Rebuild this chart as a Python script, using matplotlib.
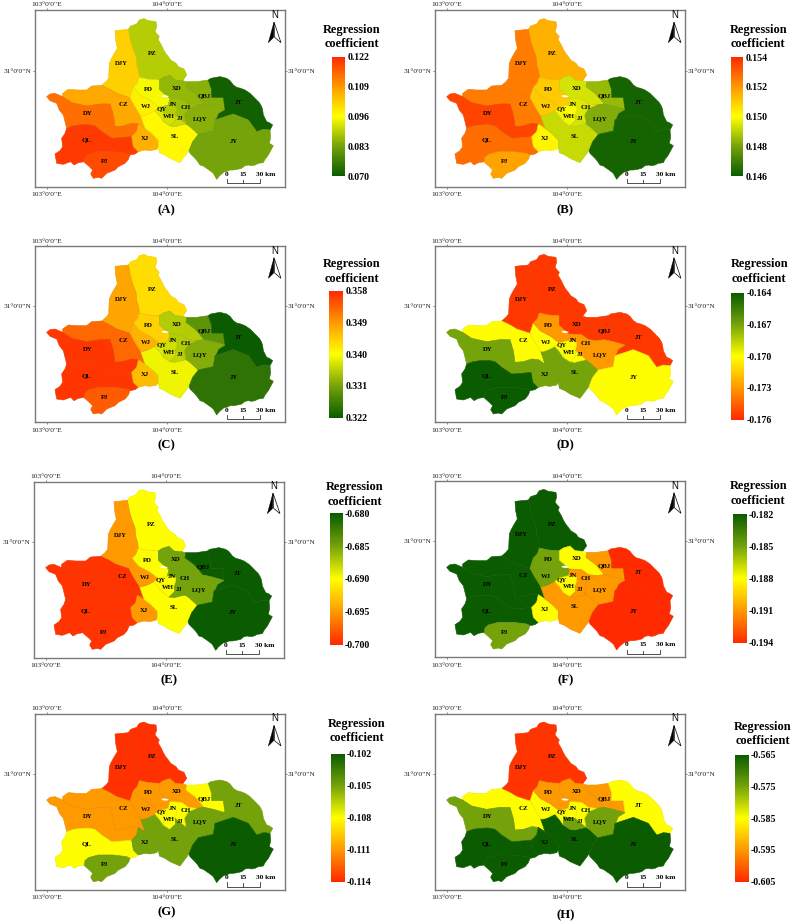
import matplotlib
matplotlib.use("Agg")
import matplotlib.pyplot as plt
from matplotlib.colors import LinearSegmentedColormap, Normalize
from matplotlib.cm import ScalarMappable
from matplotlib.patches import Polygon

plt.rcParams['font.family'] = ['Liberation Serif', 'DejaVu Serif']

W, H = 796, 924
Z = 3.0  # layout units per pixel

REGIONS = ["PZ","DJY","CZ","DY","QL","PJ","XJ","SL","WJ","PD","XD","QBJ","JT","LQY","CH","JN","QY","WH","JJ","JY"]

values_A = [.089,.102,.107,.114,.120,.118,.106,.097,.098,.095,.086,.085,.071,.085,.087,.089,.093,.092,.091,.083]
values_B = [.1515,.1525,.1525,.1535,.1528,.1518,.1502,.1492,.1510,.1510,.1494,.1485,.1462,.1482,.1495,.1500,.1498,.1498,.1494,.1462]
values_C = [.343,.348,.353,.357,.357,.354,.346,.339,.347,.344,.335,.329,.322,.332,.335,.337,.338,.337,.336,.325]
values_D = [-.1756,-.1756,-.170,-.167,-.164,-.164,-.167,-.167,-.170,-.173,-.1756,-.1756,-.1756,-.173,-.173,-.170,-.170,-.170,-.170,-.170]
values_E = [-.690,-.695,-.6995,-.6995,-.6995,-.6995,-.695,-.690,-.695,-.690,-.685,-.680,-.680,-.685,-.685,-.690,-.690,-.690,-.685,-.680]
values_F = [-.182,-.182,-.182,-.182,-.182,-.185,-.188,-.191,-.185,-.185,-.188,-.191,-.194,-.191,-.191,-.188,-.188,-.188,-.191,-.194]
values_G = [-.1138,-.1138,-.111,-.111,-.108,-.105,-.105,-.105,-.111,-.111,-.111,-.108,-.105,-.105,-.108,-.108,-.108,-.108,-.105,-.102]
values_H = [-.604,-.604,-.585,-.575,-.565,-.565,-.565,-.565,-.585,-.595,-.595,-.595,-.585,-.575,-.585,-.585,-.585,-.575,-.575,-.565]

ticks_A = [.122,.109,.096,.083,.070]
ticks_B = [.154,.152,.150,.148,.146]
ticks_C = [.358,.349,.340,.331,.322]
ticks_D = [-.164,-.167,-.170,-.173,-.176]
ticks_E = [-.680,-.685,-.690,-.695,-.700]
ticks_F = [-.182,-.185,-.188,-.191,-.194]
ticks_G = [-.102,-.105,-.108,-.111,-.114]
ticks_H = [-.565,-.575,-.585,-.595,-.605]

# Region outlines in layout units
SHAPES = {
"PZ":[(385,88),(392,78),(410,72),(418,60),(432,56),(445,62),(468,65),(470,80),(465,95),(478,110),(474,118),(484,135),(490,148),(497,160),(505,170),(512,180),(528,190),(535,200),(552,207),(560,225),(548,242),(525,240),(510,226),(490,232),(478,240),(445,238),(418,232),(416,215),(410,195),(408,170),(400,150),(392,125)],
"DJY":[(385,88),(345,92),(347,120),(352,145),(340,165),(333,178),(328,190),(327,212),(326,235),(318,245),(305,256),(330,268),(350,280),(390,293),(400,262),(412,250),(418,232),(416,215),(410,195),(408,170),(400,150),(392,125)],
"CZ":[(188,290),(188,280),(205,268),(230,270),(260,270),(275,258),(305,256),(330,268),(350,280),(390,293),(405,320),(422,347),(435,385),(415,372),(395,370),(370,378),(345,380),(340,345),(330,312),(300,312),(260,318),(215,308)],
"DY":[(140,290),(150,282),(165,280),(188,290),(215,308),(260,318),(300,312),(330,312),(340,345),(345,380),(370,378),(395,370),(415,372),(410,395),(395,410),(365,413),(335,415),(305,395),(285,378),(265,374),(240,375),(220,378),(200,385),(195,365),(190,345),(178,330),(170,310),(150,302)],
"QL":[(200,385),(220,378),(240,375),(265,374),(285,378),(305,395),(335,415),(365,413),(395,410),(400,440),(415,455),(405,462),(390,465),(380,460),(340,455),(295,455),(265,463),(255,472),(253,485),(235,488),(222,495),(212,485),(190,493),(170,490),(165,462),(180,452),(188,440),(185,415),(195,400)],
"PJ":[(255,472),(265,463),(295,455),(340,455),(380,460),(390,465),(385,478),(375,490),(355,500),(345,510),(320,520),(305,535),(295,532),(280,535),(272,522),(278,510),(268,500),(253,487)],
"XJ":[(435,385),(455,400),(475,420),(475,440),(470,448),(450,452),(435,450),(415,455),(400,440),(395,410),(410,395),(415,372)],
"SL":[(475,440),(478,458),(495,465),(510,475),(540,488),(552,472),(567,452),(578,425),(595,403),(570,380),(558,372),(540,376),(525,380),(510,378),(490,365),(480,350),(465,332),(445,342),(430,347),(422,347),(435,385),(455,400),(475,420)],
"WJ":[(400,262),(390,293),(405,320),(422,347),(430,347),(445,342),(465,332),(478,322),(452,302),(420,285)],
"PD":[(400,262),(420,285),(452,302),(478,322),(505,315),(510,295),(495,283),(478,268),(478,240),(445,238),(418,232),(412,250)],
"XD":[(478,240),(490,232),(510,226),(525,240),(548,242),(560,245),(558,260),(585,280),(603,300),(612,312),(590,315),(565,312),(545,297),(510,295),(495,283),(478,268)],
"QBJ":[(560,245),(590,245),(625,240),(635,270),(635,292),(670,292),(675,328),(640,318),(612,312),(603,300),(585,280),(558,260)],
"JT":[(625,240),(632,235),(660,230),(680,235),(690,242),(700,255),(710,262),(722,265),(735,270),(750,280),(760,290),(770,300),(778,308),(785,320),(788,330),(790,345),(795,355),(800,365),(808,368),(818,375),(810,390),(790,388),(770,395),(745,360),(700,342),(645,360),(650,352),(655,340),(675,328),(670,292),(635,292),(635,270)],
"LQY":[(612,312),(640,318),(675,328),(655,340),(650,352),(645,360),(640,393),(595,403),(570,380),(558,372),(553,345),(565,325),(590,315)],
"CH":[(510,295),(545,297),(565,312),(590,315),(565,325),(553,345),(558,372),(545,362),(525,345),(530,330),(530,320),(505,315)],
"JN":[(505,315),(530,320),(530,330),(525,345),(490,340),(478,322)],
"QY":[(478,322),(490,340),(490,365),(480,350),(465,332)],
"WH":[(490,340),(525,345),(527,362),(510,378),(490,365)],
"JJ":[(525,345),(545,362),(558,372),(540,376),(525,380),(510,378),(527,362)],
"JY":[(595,403),(640,393),(645,360),(700,342),(745,360),(770,395),(790,388),(810,390),(812,412),(808,430),(820,437),(805,465),(795,478),(790,488),(775,490),(765,495),(755,497),(745,495),(735,497),(725,505),(712,508),(700,510),(690,510),(680,515),(672,516),(665,522),(658,528),(650,538),(640,520),(630,512),(620,505),(610,498),(600,495),(592,483),(585,475),(577,467),(570,460),(567,452),(578,425)],
}
LABEL_XY = {"PZ":(457,161),"DJY":(365,192),"PD":(446,268),"XD":(530,265),"QBJ":(612,286),"JT":(716,307),"CZ":(369,315),
"WJ":(438,319),"QY":(484,326),"JN":(519,315),"CH":(557,323),"DY":(264,341),"WH":(508,349),"JJ":(541,356),"LQY":(601,356),
"QL":(260,420),"XJ":(435,417),"SL":(525,409),"JY":(700,424),"PJ":(314,485)}
HOLE = [(484,287),(495,285),(507,289),(500,292),(488,291)]

# name, values, ticks, origin, frame (l,r,t,b), map shift, bar (l,r,t,b), title (cx,y1,y2), caption (x,y), high end red
PANELS = [
("A",values_A,ticks_A,(0,0),(104,855,30,560),(0,0),(995,1035,170,528),(1055,90,133),(500,630),True),
("B",values_B,ticks_B,(400,0),(104,855,30,560),(0,0),(992,1030,172,528),(1075,90,133),(495,630),True),
("C",values_C,ticks_C,(0,225),(104,855,64,592),(0,32),(988,1030,198,578),(1055,118,162),(500,660),True),
("D",values_D,ticks_D,(400,225),(104,855,64,592),(0,32),(992,1032,203,584),(1078,118,162),(495,660),False),
("E",values_E,ticks_E,(0,460),(101,853,66,594),(-3,33),(990,1028,160,554),(1065,82,125),(508,662),False),
("F",values_F,ticks_F,(400,460),(104,855,64,592),(0,32),(1000,1040,163,548),(1075,78,122),(497,660),False),
("G",values_G,ticks_G,(0,694),(104,855,60,588),(0,28),(994,1034,180,563),(1070,90,133),(500,655),False),
("H",values_H,ticks_H,(400,694),(104,855,60,588),(0,28),(1006,1046,182,563),(1088,98,142),(497,664),False),
]

CMAP = LinearSegmentedColormap.from_list("rc", [(0,"#0b5c00"),(.25,"#74a30a"),(.5,"#ffff00"),(.75,"#ff9900"),(1,"#ff2a00")])

def lon(z): return 103 + (z-140)/360
def lat(z): return 31 - (z-212)/420
def geo(pts): return [(lon(x),lat(y)) for x,y in pts]
def fx(px): return px/W
def fy(py): return 1-py/H

fig = plt.figure(figsize=(W/100,H/100), dpi=100, facecolor="white")

for name,vals,ticks,(ox,oy),(fl,fr,ft,fb),(dx,dy),(bl,br,bt,bb),(tcx,t1,t2),(cx,cy),high_red in PANELS:
    ax = fig.add_axes([fx(ox+fl/Z), fy(oy+fb/Z), (fr-fl)/Z/W, (fb-ft)/Z/H])
    ax.set_xlim(lon(fl-dx),lon(fr-dx))
    ax.set_ylim(lat(fb-dy),lat(ft-dy))
    norm = Normalize(min(ticks),max(ticks))
    cmap = CMAP if high_red else CMAP.reversed()
    for r,v in zip(REGIONS,vals):
        c = cmap(norm(v))
        ax.add_patch(Polygon(geo(SHAPES[r]),closed=True,facecolor=c,edgecolor=c,linewidth=0.4))
    for r in REGIONS:
        ax.add_patch(Polygon(geo(SHAPES[r]),closed=True,facecolor="none",edgecolor=(0.35,0.35,0.3,0.13),linewidth=0.3))
    ax.add_patch(Polygon(geo(HOLE),closed=True,facecolor="white",edgecolor="none"))
    for r,(x,y) in LABEL_XY.items():
        ax.text(lon(x),lat(y),r,fontsize=4.9,fontweight="bold",ha="center",va="center",color="black")
    # axes furniture
    ax.set_xticks([103,104]); ax.set_xticklabels(["103°0'0\"E","104°0'0\"E"])
    ax.set_yticks([31]); ax.set_yticklabels(["31°0'0\"N"])
    ax.tick_params(axis="y",length=1.2,width=0.5,color="#555555",labelsize=5.4,pad=1,labelcolor="#222222",right=True,labelright=True)
    ax.tick_params(axis="x",length=1.2,width=0.5,color="#555555",labelsize=5.4,pad=2.6,labelcolor="#222222")
    sec = ax.secondary_xaxis("top")
    sec.set_xticks([103,104]); sec.set_xticklabels(["103°0'0\"E","104°0'0\"E"])
    sec.tick_params(length=1.2,width=0.5,color="#555555",labelsize=5.4,pad=0.6,labelcolor="#222222")
    sec.spines["top"].set_visible(False)
    for s in ax.spines.values():
        s.set_color("#7a7a7a"); s.set_linewidth(1.0)
    # north arrow
    ax.text(lon(825),lat(45),"N",fontsize=7,family="Liberation Sans",ha="center",va="center")
    ax.add_patch(Polygon(geo([(822,66),(805,128),(821,112)]),closed=True,facecolor="black",edgecolor="black",linewidth=0.3))
    ax.add_patch(Polygon(geo([(822,66),(843,128),(824,112)]),closed=True,facecolor="white",edgecolor="black",linewidth=0.5))
    # scale bar
    ax.plot([lon(681),lon(681),lon(779),lon(779)],[lat(537),lat(550),lat(550),lat(537)],color="#333333",lw=0.6)
    ax.plot([lon(730),lon(730)],[lat(540),lat(550)],color="#333333",lw=0.6)
    for x,t in [(681,"0"),(730,"15"),(796,"30 km")]:
        ax.text(lon(x),lat(523),t,fontsize=5.3,fontweight="bold",ha="center",va="center")
    # colour bar
    cax = fig.add_axes([fx(ox+bl/Z), fy(oy+bb/Z), (br-bl)/Z/W, (bb-bt)/Z/H])
    cb = fig.colorbar(ScalarMappable(norm=norm,cmap=cmap),cax=cax,orientation="vertical")
    cb.set_ticks(ticks); cb.set_ticklabels([f"{t:.3f}" for t in ticks])
    cb.outline.set_visible(False)
    cax.tick_params(length=0,pad=1.6,labelsize=7.1)
    for l in cax.get_yticklabels(): l.set_fontweight("bold")
    fig.text(fx(ox+tcx/Z),fy(oy+t1/Z),"Regression",fontsize=8.9,fontweight="bold",ha="center",va="center")
    fig.text(fx(ox+tcx/Z),fy(oy+t2/Z),"coefficient",fontsize=8.9,fontweight="bold",ha="center",va="center")
    fig.text(fx(ox+cx/Z),fy(oy+cy/Z),f"({name})",fontsize=9.2,fontweight="bold",ha="center",va="center")

fig.savefig("out.png",dpi=100)
